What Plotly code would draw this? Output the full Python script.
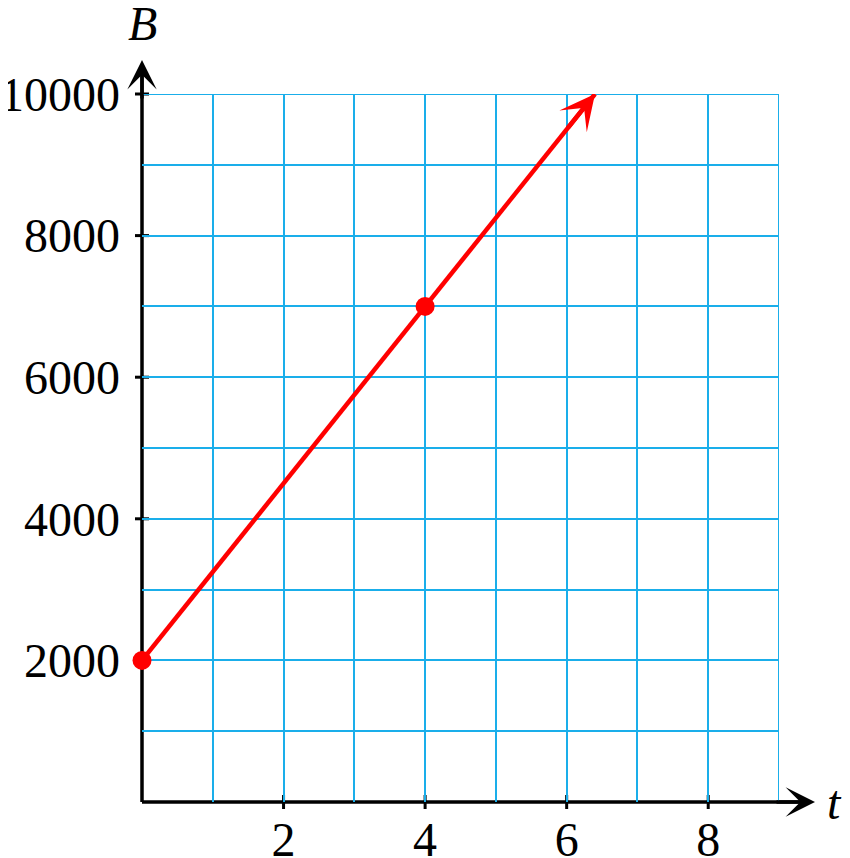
import plotly.graph_objects as go

# data
line_t = [0, 6.4]
line_B = [2000, 10000]
pts_t = [0, 4]
pts_B = [2000, 7000]
x_ticks = [2, 4, 6, 8]
y_ticks = [2000, 4000, 6000, 8000, 10000]
x_range = [0, 9]
y_range = [0, 10000]

# page has an 8px body margin, so the figure is drawn at an offset of 8px
W, H = 842, 850
L, R, T, Bm = 134, 71, 86, 56
pw, ph = W - L - R, H - T - Bm

def px(x):
    return (x - x_range[0]) / (x_range[1] - x_range[0])

def py(y):
    return (y - y_range[0]) / (y_range[1] - y_range[0])

FONT = "Liberation Serif"
RED = "#FF0000"
GRID = "#1AAEEA"

fig = go.Figure()
fig.add_trace(go.Scatter(x=line_t, y=line_B, mode="lines",
                         line=dict(color=RED, width=4.5), cliponaxis=False,
                         hoverinfo="skip"))
fig.add_trace(go.Scatter(x=pts_t, y=pts_B, mode="markers",
                         marker=dict(color=RED, size=19), cliponaxis=False))

shapes = []
# grid lines on the far edges (top and right) of the grid
shapes.append(dict(type="line", xref="x", yref="y", x0=x_range[0], x1=x_range[1],
                   y0=y_range[1], y1=y_range[1], line=dict(color=GRID, width=2),
                   layer="below"))
shapes.append(dict(type="line", xref="x", yref="y", x0=x_range[1], x1=x_range[1],
                   y0=y_range[0], y1=y_range[1], line=dict(color=GRID, width=2),
                   layer="below"))
# axis lines
shapes.append(dict(type="line", xref="paper", yref="paper", x0=0, x1=1 + 20 / pw,
                   y0=0, y1=0, line=dict(color="black", width=3.5), layer="between"))
shapes.append(dict(type="line", xref="paper", yref="paper", x0=0, x1=0,
                   y0=0, y1=1 + 20 / ph, line=dict(color="black", width=3.5), layer="between"))
for xv in x_ticks:
    shapes.append(dict(type="line", xref="paper", yref="paper",
                       x0=px(xv), x1=px(xv), y0=-7 / ph, y1=7 / ph,
                       line=dict(color="black", width=3), layer="between"))
for yv in y_ticks:
    shapes.append(dict(type="line", xref="paper", yref="paper",
                       x0=-7 / pw, x1=7 / pw, y0=py(yv), y1=py(yv),
                       line=dict(color="black", width=3), layer="between"))

ann = []
# axis arrowheads
x_tip = 1 + 36 / pw
y_tip = 1 + 34 / ph
ann.append(dict(xref="paper", yref="paper", x=x_tip, y=0, ax=-40, ay=0,
                axref="pixel", ayref="pixel", text="", showarrow=True,
                arrowhead=3, arrowsize=1.4, arrowwidth=3.5, arrowcolor="black", standoff=0))
ann.append(dict(xref="paper", yref="paper", x=0, y=y_tip, ax=0, ay=40,
                axref="pixel", ayref="pixel", text="", showarrow=True,
                arrowhead=3, arrowsize=1.4, arrowwidth=3.5, arrowcolor="black", standoff=0))
# red arrowhead
ann.append(dict(xref="x", yref="y", x=line_t[1], y=line_B[1],
                ax=line_t[1] - 0.4, ay=line_B[1] - 500, axref="x", ayref="y",
                text="", showarrow=True, arrowhead=3, arrowsize=1.3, arrowwidth=4.5,
                arrowcolor=RED, standoff=0))
# axis labels
ann.append(dict(xref="paper", yref="paper", x=0, y=1 + 70 / ph, text="<i>B</i>",
                showarrow=False, font=dict(family=FONT, size=48, color="black"),
                xanchor="center", yanchor="middle"))
ann.append(dict(xref="paper", yref="paper", x=1 + 55 / pw, y=0, text="<i>t</i>",
                showarrow=False, font=dict(family=FONT, size=48, color="black"),
                xanchor="center", yanchor="middle"))

fig.update_layout(
    width=W, height=H, margin=dict(l=L, r=R, t=T, b=Bm, autoexpand=False),
    plot_bgcolor="white", paper_bgcolor="white", showlegend=False,
    shapes=shapes, annotations=ann,
    font=dict(family=FONT, size=48, color="black"),
    xaxis=dict(range=x_range, showgrid=False, zeroline=False, showline=False, ticks="",
               tickmode="array", tickvals=x_ticks, ticktext=[str(v) for v in x_ticks],
               ticklabelstandoff=5, fixedrange=True),
    yaxis=dict(range=y_range, showgrid=False, zeroline=False, showline=False, ticks="",
               tickmode="array", tickvals=y_ticks, ticktext=[str(v) for v in y_ticks],
               ticklabelstandoff=21, fixedrange=True),
)
fig.update_xaxes(minor=dict(tickmode="linear", tick0=0, dtick=1, showgrid=True,
                            gridcolor=GRID, gridwidth=2))
fig.update_yaxes(minor=dict(tickmode="linear", tick0=0, dtick=1000, showgrid=True,
                            gridcolor=GRID, gridwidth=2))

fig.write_html("out.html")
